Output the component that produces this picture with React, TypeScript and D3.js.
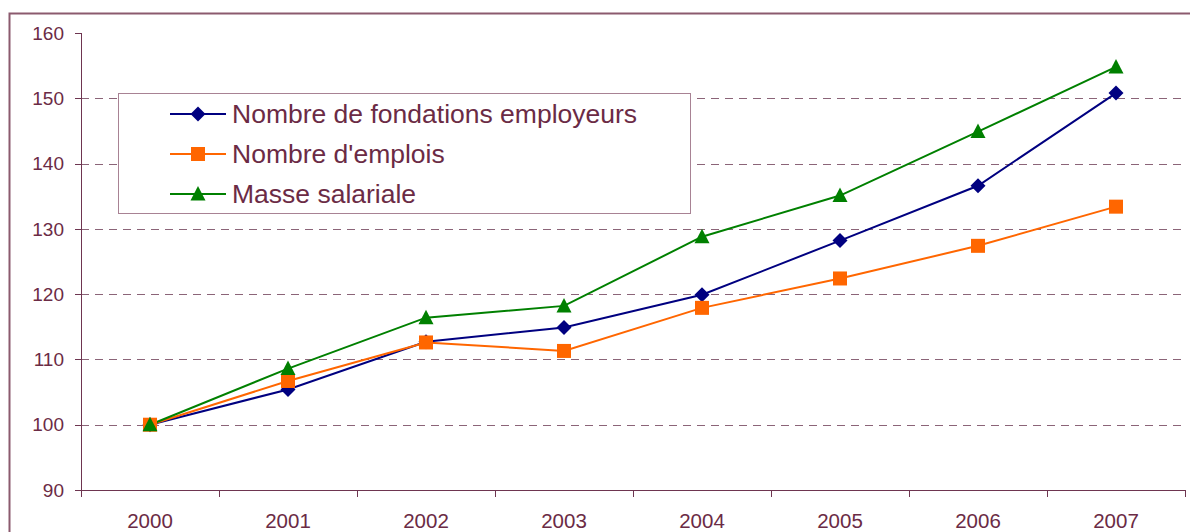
import React from "react";
import * as d3 from "d3";

const years = ["2000", "2001", "2002", "2003", "2004", "2005", "2006", "2007"];
const fondations = [100, 105.4, 112.7, 114.9, 119.9, 128.2, 136.6, 150.8];
const emplois = [100, 106.7, 112.6, 111.3, 117.9, 122.4, 127.4, 133.4];
const masse = [100, 108.6, 116.4, 118.2, 128.8, 135.1, 144.9, 154.8];
const yTicks = [90, 100, 110, 120, 130, 140, 150, 160];
const gridValues = [100, 110, 120, 130, 140, 150];

const seriesNames = ["Nombre de fondations employeurs", "Nombre d'emplois", "Masse salariale"];
const seriesData = [fondations, emplois, masse];
const seriesColors = ["#000080", "#FF6600", "#008000"];
const seriesShapes = ["diamond", "square", "triangle"];

const W = 1190;
const H = 532;
const textColor = "#6B2B45";
const axisColor = "#6E3550";

function Marker({ shape, x, y, color }: { shape: string; x: number; y: number; color: string }) {
  if (shape === "diamond") {
    const s = 7.5;
    return <path d={`M${x},${y - s}L${x + s},${y}L${x},${y + s}L${x - s},${y}Z`} fill={color} />;
  }
  if (shape === "square") {
    return <rect x={x - 7} y={y - 7} width={14} height={14} fill={color} />;
  }
  return <path d={`M${x},${y - 8}L${x + 7.5},${y + 6.5}L${x - 7.5},${y + 6.5}Z`} fill={color} />;
}

export default function App() {
  const x = d3.scaleBand<string>().domain(years).range([81, 1185]);
  const y = d3.scaleLinear().domain([90, 160]).range([490, 33]);
  const cx = (yr: string) => (x(yr) as number) + x.bandwidth() / 2;
  const line = d3
    .line<number>()
    .x((_, i) => cx(years[i]))
    .y((d) => y(d));

  const legendX = 118;
  const legendY = 93;
  const rowY = [114, 154, 194];

  return (
    <svg
      width={W}
      height={H}
      style={{ position: "absolute", left: 0, top: 0, display: "block" }}
      fontFamily="'Liberation Sans', Arial, sans-serif"
    >
      <rect x={0} y={0} width={W} height={H} fill="#fff" />
      {/* outer frame */}
      <rect x={9.5} y={13.5} width={1200} height={540} fill="none" stroke="#8B5A6E" strokeWidth={2} />

      {/* grid */}
      {gridValues.map((v) => (
        <line
          key={v}
          x1={81}
          x2={1185}
          y1={Math.round(y(v)) + 0.5}
          y2={Math.round(y(v)) + 0.5}
          stroke="#8B6478"
          strokeWidth={1}
          strokeDasharray="8,6"
        />
      ))}

      {/* y axis */}
      <line x1={81.5} x2={81.5} y1={33} y2={490} stroke={axisColor} strokeWidth={1} />
      {yTicks.map((v) => (
        <g key={v}>
          <line x1={75} x2={81} y1={Math.round(y(v)) + 0.5} y2={Math.round(y(v)) + 0.5} stroke={axisColor} />
          <text x={64} y={y(v)} dy="0.35em" textAnchor="end" fontSize={19} fill={textColor}>
            {v}
          </text>
        </g>
      ))}

      {/* x axis */}
      <line x1={81} x2={1185} y1={490.5} y2={490.5} stroke={axisColor} strokeWidth={1} />
      {[...years.map((yr) => x(yr) as number), 1185].map((px, i) => (
        <line key={i} x1={Math.round(px) + 0.5} x2={Math.round(px) + 0.5} y1={490} y2={497} stroke={axisColor} />
      ))}
      {years.map((yr) => (
        <text key={yr} x={cx(yr)} y={528} textAnchor="middle" fontSize={20.5} fill={textColor}>
          {yr}
        </text>
      ))}

      {/* series lines */}
      {seriesData.map((d, si) => (
        <path key={si} d={line(d) as string} fill="none" stroke={seriesColors[si]} strokeWidth={2} />
      ))}
      {seriesData.map((d, si) =>
        d.map((v, i) => (
          <Marker key={`${si}-${i}`} shape={seriesShapes[si]} x={cx(years[i])} y={y(v)} color={seriesColors[si]} />
        ))
      )}

      {/* legend */}
      <rect x={legendX + 0.5} y={legendY + 0.5} width={572} height={120} fill="#fff" stroke="#A88294" strokeWidth={1} />
      {seriesNames.map((name, i) => (
        <g key={name}>
          <line x1={170} x2={226} y1={rowY[i]} y2={rowY[i]} stroke={seriesColors[i]} strokeWidth={2} />
          <Marker shape={seriesShapes[i]} x={198} y={rowY[i]} color={seriesColors[i]} />
          <text x={232} y={rowY[i]} dy="0.35em" fontSize={26.5} fill={textColor}>
            {name}
          </text>
        </g>
      ))}
    </svg>
  );
}
